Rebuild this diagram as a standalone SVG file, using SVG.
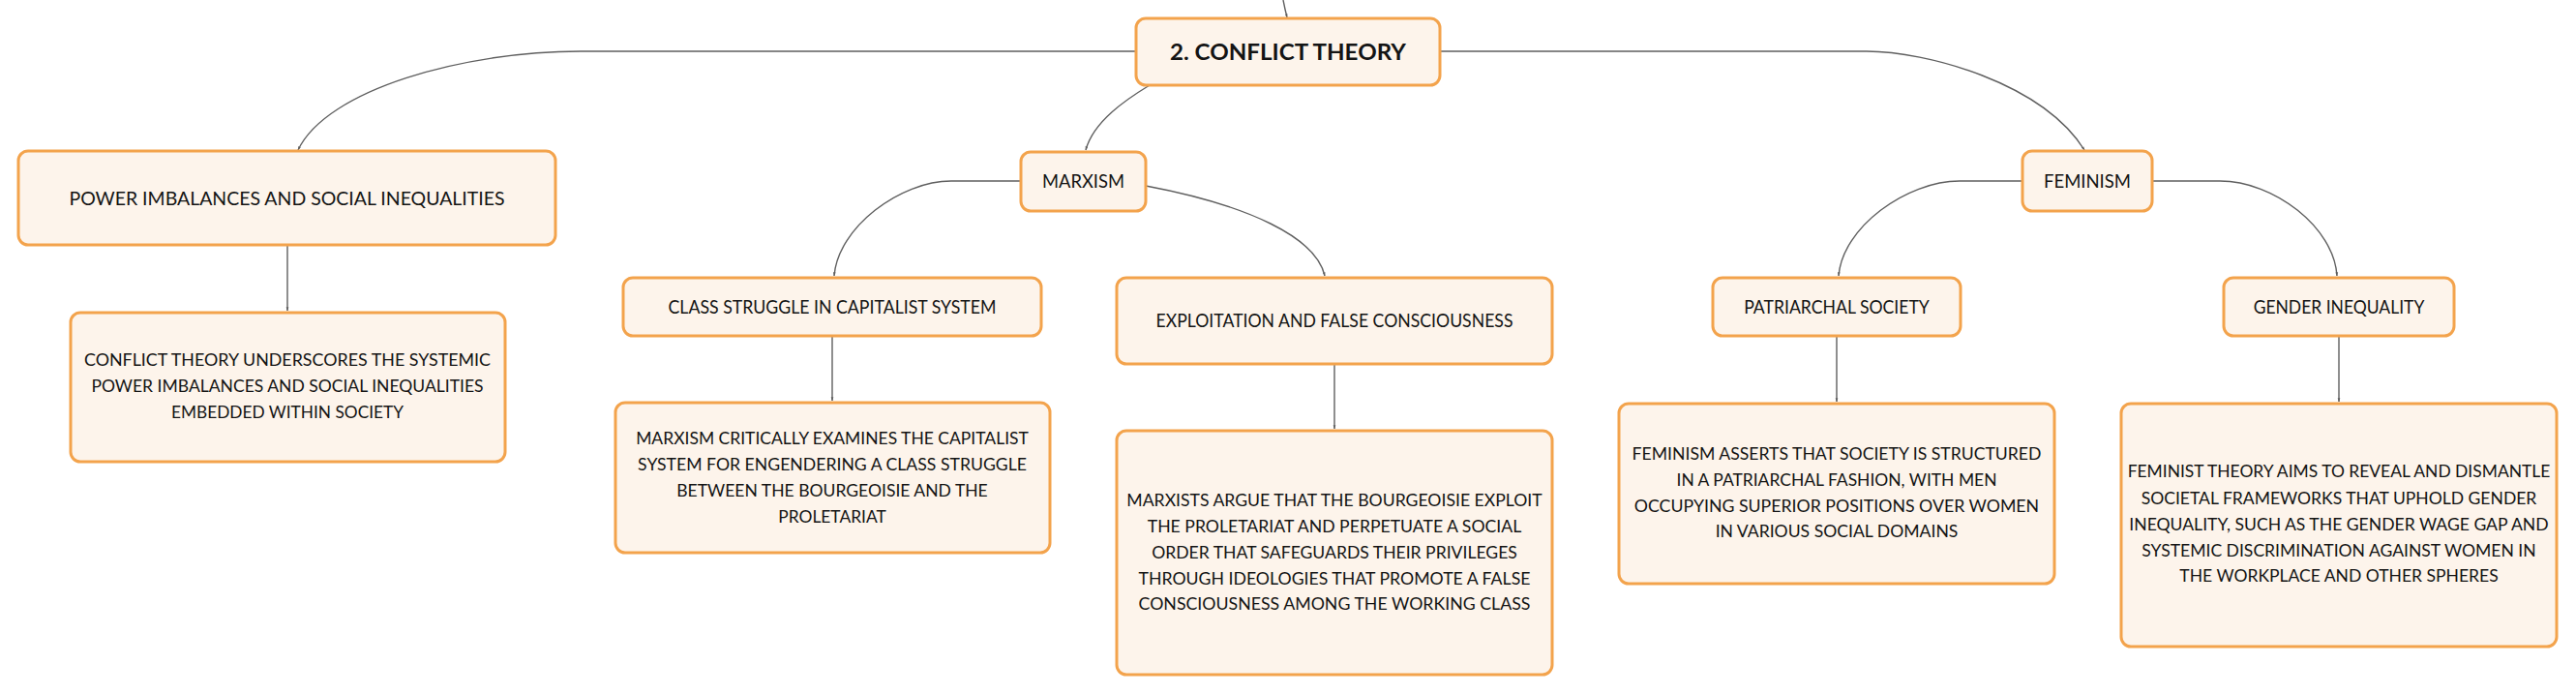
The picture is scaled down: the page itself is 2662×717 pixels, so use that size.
<svg xmlns="http://www.w3.org/2000/svg" width="2662" height="717" viewBox="0 0 2662 717">
<defs>
<style>
.box{fill:#fdf4eb;stroke:#f3a34c;stroke-width:3}
.t{font-family:Lato,"Noto Sans","Liberation Sans",sans-serif;fill:#141414;text-anchor:middle}
.ti{font-size:19.5px}
.d{font-size:17.5px}
.main{font-size:23px;font-weight:700}
.c{fill:none;stroke:#5f5f5f;stroke-width:1.4;marker-end:url(#ah)}
</style>
<marker id="ah" viewBox="0 0 6 6" refX="5.5" refY="3" markerWidth="4" markerHeight="4" markerUnits="userSpaceOnUse" orient="auto">
<path d="M0,1 L6,3 L0,5 Z" fill="#5f5f5f"/>
</marker>
</defs>
<rect width="2662" height="717" fill="#ffffff"/>
<g id="connectors">
<path class="c" d="M1326,0 Q1328,10 1330,18"/>
<path class="c" d="M1174,53 H600 C480,53 338,92 308,155"/>
<path class="c" d="M1188,88 C1165,102 1130,125 1122,155"/>
<path class="c" d="M1488,53 H1929 C1990,53 2110,85 2154,155"/>
<path class="c" d="M1055,187 H983 C930,187 866,235 862,285"/>
<path class="c" d="M1184,192 C1290,212 1360,245 1369,285"/>
<path class="c" d="M2090,187 H2025 C1970,187 1904,235 1900,285"/>
<path class="c" d="M2224,187 H2294 C2350,187 2412,235 2415,285"/>
<path class="c" d="M297,253 V321"/>
<path class="c" d="M860,347 V414"/>
<path class="c" d="M1379,376 V443"/>
<path class="c" d="M1898,347 V415"/>
<path class="c" d="M2417,347 V415"/>
</g>
<g id="conflict-theory">
<rect class="box" x="1174" y="19" width="314" height="69" rx="10"/>
<text class="t main" x="1331" y="61.5" textLength="244" lengthAdjust="spacingAndGlyphs">2. CONFLICT THEORY</text>
</g>
<g id="power-imbalances">
<rect class="box" x="19" y="156" width="555" height="97" rx="10"/>
<text class="t ti" x="296.5" y="211.5" textLength="450" lengthAdjust="spacingAndGlyphs">POWER IMBALANCES AND SOCIAL INEQUALITIES</text>
</g>
<g id="power-desc">
<rect class="box" x="73" y="323" width="449" height="154" rx="10"/>
<text class="t d" x="297" y="378.3" textLength="420" lengthAdjust="spacingAndGlyphs">CONFLICT THEORY UNDERSCORES THE SYSTEMIC</text>
<text class="t d" x="297" y="405.3" textLength="405" lengthAdjust="spacingAndGlyphs">POWER IMBALANCES AND SOCIAL INEQUALITIES</text>
<text class="t d" x="297" y="432.3" textLength="240" lengthAdjust="spacingAndGlyphs">EMBEDDED WITHIN SOCIETY</text>
</g>
<g id="marxism">
<rect class="box" x="1055" y="157" width="129" height="61" rx="10"/>
<text class="t ti" x="1119.5" y="194" textLength="85" lengthAdjust="spacingAndGlyphs">MARXISM</text>
</g>
<g id="class-struggle">
<rect class="box" x="644" y="287" width="432" height="60" rx="10"/>
<text class="t ti" x="860" y="324" textLength="339" lengthAdjust="spacingAndGlyphs">CLASS STRUGGLE IN CAPITALIST SYSTEM</text>
</g>
<g id="class-struggle-desc">
<rect class="box" x="636" y="416" width="449" height="155" rx="10"/>
<text class="t d" x="860" y="459.3" textLength="405.7" lengthAdjust="spacingAndGlyphs">MARXISM CRITICALLY EXAMINES THE CAPITALIST</text>
<text class="t d" x="860" y="486.3" textLength="401.8" lengthAdjust="spacingAndGlyphs">SYSTEM FOR ENGENDERING A CLASS STRUGGLE</text>
<text class="t d" x="860" y="513.3" textLength="321.5" lengthAdjust="spacingAndGlyphs">BETWEEN THE BOURGEOISIE AND THE</text>
<text class="t d" x="860" y="539.8" textLength="111.4" lengthAdjust="spacingAndGlyphs">PROLETARIAT</text>
</g>
<g id="exploitation">
<rect class="box" x="1154" y="287" width="450" height="89" rx="10"/>
<text class="t ti" x="1379" y="338" textLength="369" lengthAdjust="spacingAndGlyphs">EXPLOITATION AND FALSE CONSCIOUSNESS</text>
</g>
<g id="exploitation-desc">
<rect class="box" x="1154" y="445" width="450" height="252" rx="10"/>
<text class="t d" x="1379" y="523.3" textLength="429.4" lengthAdjust="spacingAndGlyphs">MARXISTS ARGUE THAT THE BOURGEOISIE EXPLOIT</text>
<text class="t d" x="1379" y="550.1" textLength="386.5" lengthAdjust="spacingAndGlyphs">THE PROLETARIAT AND PERPETUATE A SOCIAL</text>
<text class="t d" x="1379" y="576.8" textLength="377.7" lengthAdjust="spacingAndGlyphs">ORDER THAT SAFEGUARDS THEIR PRIVILEGES</text>
<text class="t d" x="1379" y="603.6" textLength="404.9" lengthAdjust="spacingAndGlyphs">THROUGH IDEOLOGIES THAT PROMOTE A FALSE</text>
<text class="t d" x="1379" y="630.3" textLength="404.9" lengthAdjust="spacingAndGlyphs">CONSCIOUSNESS AMONG THE WORKING CLASS</text>
</g>
<g id="feminism">
<rect class="box" x="2090" y="156" width="134" height="62" rx="10"/>
<text class="t ti" x="2157" y="194" textLength="90" lengthAdjust="spacingAndGlyphs">FEMINISM</text>
</g>
<g id="patriarchal-society">
<rect class="box" x="1770" y="287" width="256" height="60" rx="10"/>
<text class="t ti" x="1898" y="324" textLength="191.7" lengthAdjust="spacingAndGlyphs">PATRIARCHAL SOCIETY</text>
</g>
<g id="patriarchal-desc">
<rect class="box" x="1673" y="417" width="450" height="186" rx="10"/>
<text class="t d" x="1898" y="475.3" textLength="422.9" lengthAdjust="spacingAndGlyphs">FEMINISM ASSERTS THAT SOCIETY IS STRUCTURED</text>
<text class="t d" x="1898" y="502.3" textLength="331" lengthAdjust="spacingAndGlyphs">IN A PATRIARCHAL FASHION, WITH MEN</text>
<text class="t d" x="1898" y="528.8" textLength="418.3" lengthAdjust="spacingAndGlyphs">OCCUPYING SUPERIOR POSITIONS OVER WOMEN</text>
<text class="t d" x="1898" y="555.3" textLength="250.7" lengthAdjust="spacingAndGlyphs">IN VARIOUS SOCIAL DOMAINS</text>
</g>
<g id="gender-inequality">
<rect class="box" x="2298" y="287" width="238" height="60" rx="10"/>
<text class="t ti" x="2417" y="324" textLength="176.7" lengthAdjust="spacingAndGlyphs">GENDER INEQUALITY</text>
</g>
<g id="gender-desc">
<rect class="box" x="2192" y="417" width="450" height="251" rx="10"/>
<text class="t d" x="2417" y="493.3" textLength="436.7" lengthAdjust="spacingAndGlyphs">FEMINIST THEORY AIMS TO REVEAL AND DISMANTLE</text>
<text class="t d" x="2417" y="520.6" textLength="408.7" lengthAdjust="spacingAndGlyphs">SOCIETAL FRAMEWORKS THAT UPHOLD GENDER</text>
<text class="t d" x="2417" y="547.6" textLength="433.3" lengthAdjust="spacingAndGlyphs">INEQUALITY, SUCH AS THE GENDER WAGE GAP AND</text>
<text class="t d" x="2417" y="574.6" textLength="407.3" lengthAdjust="spacingAndGlyphs">SYSTEMIC DISCRIMINATION AGAINST WOMEN IN</text>
<text class="t d" x="2417" y="601.3" textLength="329.3" lengthAdjust="spacingAndGlyphs">THE WORKPLACE AND OTHER SPHERES</text>
</g>
</svg>
